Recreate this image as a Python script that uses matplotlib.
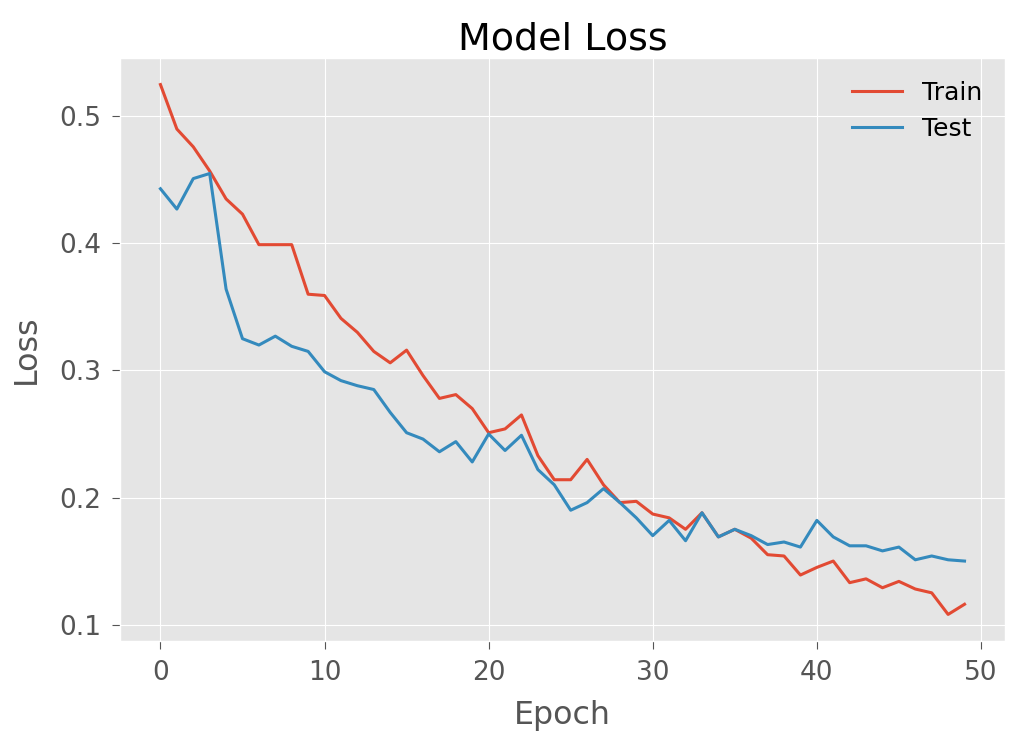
import numpy as np
import matplotlib
matplotlib.use("Agg")
import matplotlib.pyplot as plt

epochs = np.arange(50)

train_loss = [0.525, 0.490, 0.476, 0.457, 0.435, 0.423, 0.399, 0.399, 0.399, 0.360,
              0.359, 0.341, 0.330, 0.315, 0.306, 0.316, 0.296, 0.278, 0.281, 0.270,
              0.251, 0.254, 0.265, 0.233, 0.214, 0.214, 0.230, 0.210, 0.196, 0.197,
              0.187, 0.184, 0.175, 0.188, 0.169, 0.175, 0.168, 0.155, 0.154, 0.139,
              0.145, 0.150, 0.133, 0.136, 0.129, 0.134, 0.128, 0.125, 0.108, 0.116]

test_loss = [0.443, 0.427, 0.451, 0.455, 0.364, 0.325, 0.320, 0.327, 0.319, 0.315,
             0.299, 0.292, 0.288, 0.285, 0.267, 0.251, 0.246, 0.236, 0.244, 0.228,
             0.250, 0.237, 0.249, 0.222, 0.210, 0.190, 0.196, 0.207, 0.196, 0.184,
             0.170, 0.182, 0.166, 0.188, 0.169, 0.175, 0.170, 0.163, 0.165, 0.161,
             0.182, 0.169, 0.162, 0.162, 0.158, 0.161, 0.151, 0.154, 0.151, 0.150]

plt.style.use('ggplot')
plt.rcParams['font.size'] = 19

fig = plt.figure(figsize=(10.19, 7.35), dpi=100)
ax = fig.add_axes([0.118, 0.128, 0.868, 0.793])

ax.plot(epochs, train_loss, linewidth=2.2, label='Train')
ax.plot(epochs, test_loss, linewidth=2.2, label='Test')

ax.set_title('Model Loss')
ax.set_xlabel('Epoch', labelpad=10)
ax.set_ylabel('Loss', labelpad=12)
ax.set_yticks([0.1, 0.2, 0.3, 0.4, 0.5])
ax.tick_params(axis='both', which='major', length=6, pad=8)
ax.legend(loc='upper right', frameon=False, fontsize=18)

fig.savefig('out.png', dpi=100)
